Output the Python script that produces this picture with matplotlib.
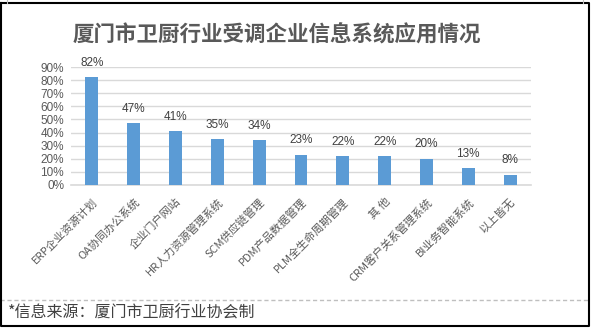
import matplotlib
matplotlib.use("Agg")
import matplotlib.pyplot as plt
import matplotlib.transforms as mtransforms
from matplotlib.lines import Line2D

plt.rcParams['font.family'] = ['Noto Sans CJK SC', 'DejaVu Sans']

title = "厦门市卫厨行业受调企业信息系统应用情况"
systems = ["ERP企业资源计划", "OA协同办公系统", "企业门户网站", "HR人力资源管理系统",
           "SCM供应链管理", "PDM产品数据管理", "PLM全生命周期管理", "其 他",
           "CRM客户关系管理系统", "BI业务智能系统", "以上皆无"]
usage = [0.82, 0.47, 0.41, 0.35, 0.34, 0.23, 0.22, 0.22, 0.20, 0.13, 0.08]
yticks = [0, 0.1, 0.2, 0.3, 0.4, 0.5, 0.6, 0.7, 0.8, 0.9]
source = "*信息来源：厦门市卫厨行业协会制"

W, H = 593, 330
fig = plt.figure(figsize=(W / 100, H / 100), dpi=100)

def fx(px):
    return px / W

def fy(py):
    return 1 - py / H

ax = fig.add_axes([fx(71), fy(185), fx(531) - fx(71), fy(67) - fy(185)])
x = range(len(systems))
ax.bar(x, usage, width=0.31, color="#5b9bd5", zorder=3)
for i, v in zip(x, usage):
    ax.text(i, v + 0.11, f"{round(v * 100)}%", ha="center", va="center",
            fontsize=8.5, color="#404040", family="Liberation Sans")

ax.set_xlim(-0.5, len(systems) - 0.5)
ax.set_ylim(0, 0.9)
ax.set_yticks(yticks)
ax.set_yticklabels([f"{round(t * 100)}%" for t in yticks], fontsize=8.5,
                   color="#595959", family="Liberation Sans")
ax.set_xticks(list(x))
ax.set_xticklabels(systems, rotation=45, ha="right", rotation_mode="anchor",
                   fontsize=8, color="#595959")
shift = mtransforms.ScaledTranslation(7 / 100, 0, fig.dpi_scale_trans)
for lbl in ax.get_xticklabels():
    lbl.set_transform(lbl.get_transform() + shift)
ax.tick_params(length=0, pad=5)
ax.tick_params(axis="x", pad=8)
ax.grid(axis="y", color="#d9d9d9", lw=1, zorder=0)
for s in ["top", "right", "left"]:
    ax.spines[s].set_visible(False)
ax.spines["bottom"].set_color("#d9d9d9")
ax.spines["bottom"].set_linewidth(1.2)

fig.text(fx(277), fy(35), title, ha="center", va="center", fontsize=15.5,
         fontweight="bold", color="#595959")
fig.text(fx(8), fy(313), source, ha="left", va="center", fontsize=11.5,
         color="#404040")

# page frame and footer separator
fig.add_artist(Line2D([fx(0), fx(589)], [fy(300), fy(300)], color="#bfbfbf",
                      lw=1, ls=(0, (3, 2))))
fig.add_artist(Line2D([fx(1), fx(1), fx(589), fx(589), fx(1)],
                      [fy(3), fy(326), fy(326), fy(3), fy(3)],
                      color="black", lw=1.5))
fig.add_artist(Line2D([fx(7), fx(7)], [fy(0), fy(3)], color="#bfbfbf", lw=0.8))
fig.add_artist(Line2D([fx(583), fx(583)], [fy(0), fy(3)], color="#bfbfbf", lw=0.8))

fig.savefig("out.png", dpi=100)
